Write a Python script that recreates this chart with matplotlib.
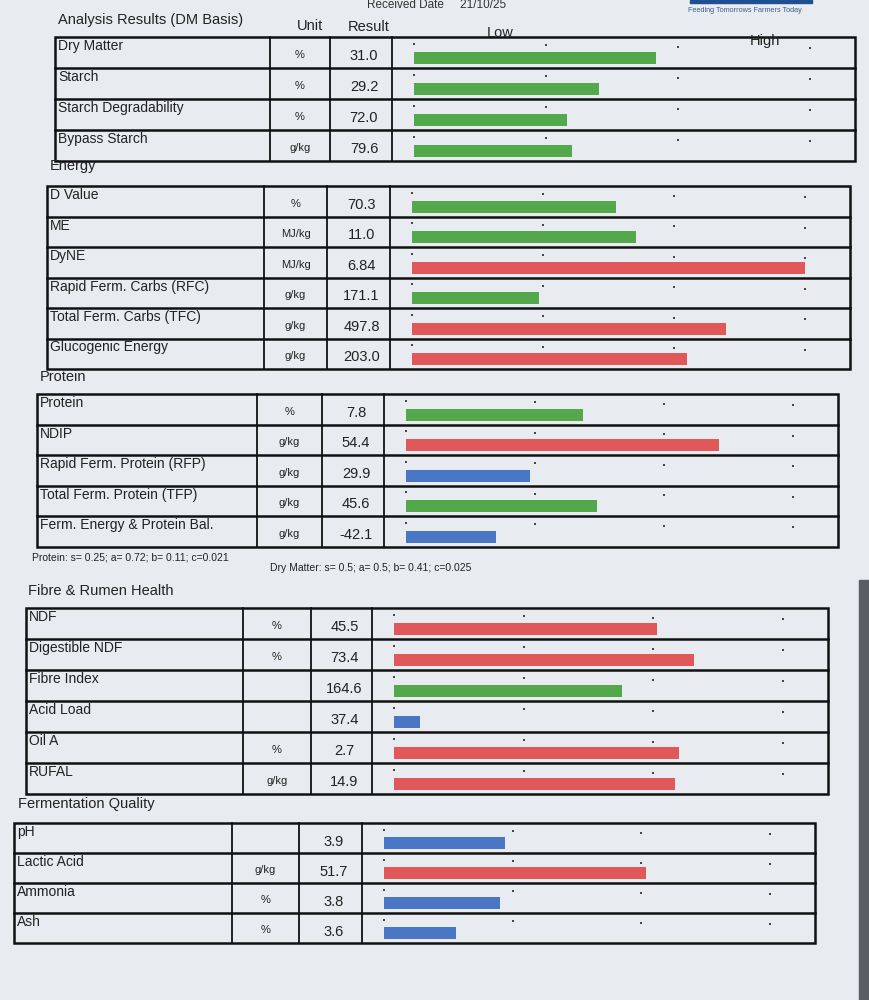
import matplotlib
matplotlib.use("Agg")
import matplotlib.pyplot as plt
from matplotlib.patches import Rectangle

plt.rcParams['font.family'] = ['Liberation Sans', 'DejaVu Sans']

# ---------------- data ----------------
sec_titles = ["Analysis Results (DM Basis)", "Energy", "Protein",
              "Fibre & Rumen Health", "Fermentation Quality"]

names1 = ["Dry Matter", "Starch", "Starch Degradability", "Bypass Starch"]
units1 = ["%", "%", "%", "g/kg"]
results1 = ["31.0", "29.2", "72.0", "79.6"]
bars1 = [1.83, 1.40, 1.16, 1.20]
status1 = ["ok", "ok", "ok", "ok"]

names2 = ["D Value", "ME", "DyNE", "Rapid Ferm. Carbs (RFC)",
          "Total Ferm. Carbs (TFC)", "Glucogenic Energy"]
units2 = ["%", "MJ/kg", "MJ/kg", "g/kg", "g/kg", "g/kg"]
results2 = ["70.3", "11.0", "6.84", "171.1", "497.8", "203.0"]
bars2 = [1.56, 1.71, 3.00, 0.97, 2.40, 2.10]
status2 = ["ok", "ok", "high", "ok", "high", "high"]

names3 = ["Protein", "NDIP", "Rapid Ferm. Protein (RFP)",
          "Total Ferm. Protein (TFP)", "Ferm. Energy & Protein Bal."]
units3 = ["%", "g/kg", "g/kg", "g/kg", "g/kg"]
results3 = ["7.8", "54.4", "29.9", "45.6", "-42.1"]
bars3 = [1.37, 2.43, 0.96, 1.48, 0.70]
status3 = ["ok", "high", "low", "ok", "low"]

names4 = ["NDF", "Digestible NDF", "Fibre Index", "Acid Load", "Oil A", "RUFAL"]
units4 = ["%", "%", "", "", "%", "g/kg"]
results4 = ["45.5", "73.4", "164.6", "37.4", "2.7", "14.9"]
bars4 = [2.03, 2.31, 1.76, 0.20, 2.20, 2.17]
status4 = ["high", "high", "ok", "low", "high", "high"]

names5 = ["pH", "Lactic Acid", "Ammonia", "Ash"]
units5 = ["", "g/kg", "%", "%"]
results5 = ["3.9", "51.7", "3.8", "3.6"]
bars5 = [0.94, 2.04, 0.90, 0.56]
status5 = ["low", "high", "low", "low"]

footnote_protein = "Protein: s= 0.25; a= 0.72; b= 0.11; c=0.021"
footnote_dm = "Dry Matter: s= 0.5; a= 0.5; b= 0.41; c=0.025"

colors = {"ok": "#52a84a", "high": "#e0585a", "low": "#4a76c6"}

sections = [
    (names1, units1, results1, bars1, status1),
    (names2, units2, results2, bars2, status2),
    (names3, units3, results3, bars3, status3),
    (names4, units4, results4, bars4, status4),
    (names5, units5, results5, bars5, status5),
]

# ---------------- layout (pixels) ----------------
W, H = 869, 1000
# title_x, title_y, top, row_h, left, c1, c2, c3, right
layout = [
    (58, 20, 37, 31.0, 55, 270, 330, 392, 855),
    (50, 166, 186, 30.5, 47, 264, 327, 390, 850),
    (40, 377, 394, 30.5, 37, 257, 322, 384, 838),
    (28, 591, 608, 31.0, 26, 243, 311, 372, 828),
    (18, 804, 823, 30.0, 14, 232, 299, 362, 815),
]

paper = "#e8ebef"
fig = plt.figure(figsize=(W / 100, H / 100), dpi=100, facecolor=paper)
ax0 = fig.add_axes([0, 0, 1, 1])
ax0.set_xlim(0, W)
ax0.set_ylim(H, 0)
ax0.axis("off")
ax0.set_facecolor(paper)

# paper edge on the right
ax0.add_patch(Rectangle((859, 580), 10, 420, color="#5a5d63", zorder=0))

# header texts
ax0.text(437, 5, "Received Date     21/10/25", fontsize=8.5, color="#333",
         ha="center", va="center")
ax0.add_patch(Rectangle((690, 0), 122, 3, color="#1d4f91"))
ax0.text(745, 11, "Feeding Tomorrows Farmers Today", fontsize=5.2, color="#3a5f8f",
         ha="center", va="center")
ax0.text(310, 26, "Unit", fontsize=10.5, ha="center", va="center", color="#222")
ax0.text(369, 27, "Result", fontsize=10.5, ha="center", va="center", color="#222")
ax0.text(500, 33, "Low", fontsize=10.5, ha="center", va="center", color="#222")
ax0.text(765, 41, "High", fontsize=10.5, ha="center", va="center", color="#222")

lw_out = 1.8
for (names, units, results, bars, status), title, lay in zip(sections, sec_titles, layout):
    tx, ty, top, rh, left, c1, c2, c3, right = lay
    n = len(names)
    bottom = top + n * rh
    ax0.text(tx, ty, title, fontsize=10.5, ha="left", va="center", color="#222")
    # outer box and column dividers
    ax0.add_patch(Rectangle((left, top), right - left, bottom - top, fill=False,
                            lw=lw_out, ec="#111"))
    for cx in (c1, c2, c3):
        ax0.plot([cx, cx], [top, bottom], color="#111", lw=1.3)
    for i in range(1, n):
        y = top + i * rh
        ax0.plot([left, right], [y, y], color="#111", lw=1.8)
    for i in range(n):
        y0 = top + i * rh
        ax0.text(left + 3, y0 + 9, names[i], fontsize=10, ha="left", va="center",
                 color="#222")
        ax0.text((c1 + c2) / 2, y0 + rh * 0.58, units[i], fontsize=8, ha="center",
                 va="center", color="#222")
        ax0.text((c2 + c3) / 2 + 3, y0 + rh * 0.62, results[i], fontsize=10.5,
                 ha="center", va="center", color="#222")
    # bar axes covering the bar column
    x_start = c3 + 22
    x_end = right - 45
    axb = fig.add_axes([c3 / W, 1 - bottom / H, (right - c3) / W, (bottom - top) / H])
    axb.set_xlim(-(x_start - c3) / (x_end - x_start) * 3,
                 3 + (right - x_end) / (x_end - x_start) * 3)
    axb.set_ylim(n, 0)
    axb.axis("off")
    axb.patch.set_alpha(0)
    ypos = [i + 0.68 for i in range(n)]
    axb.barh(ypos, bars, height=0.40, left=0,
             color=[colors[s] for s in status], zorder=3)
    # small scale tick marks at the four guide points
    for i in range(n):
        axb.scatter([0, 1, 2, 3], [i + 0.22 + 0.05 * k for k in range(4)], s=3,
                    marker="s", color="#444", lw=0, zorder=4)

# footnotes under the protein table
ax0.text(32, 557, footnote_protein, fontsize=7.5, ha="left", va="center", color="#222")
ax0.text(270, 568, footnote_dm, fontsize=7.5, ha="left", va="center", color="#222")

fig.savefig("out.png", dpi=100, facecolor=paper)
